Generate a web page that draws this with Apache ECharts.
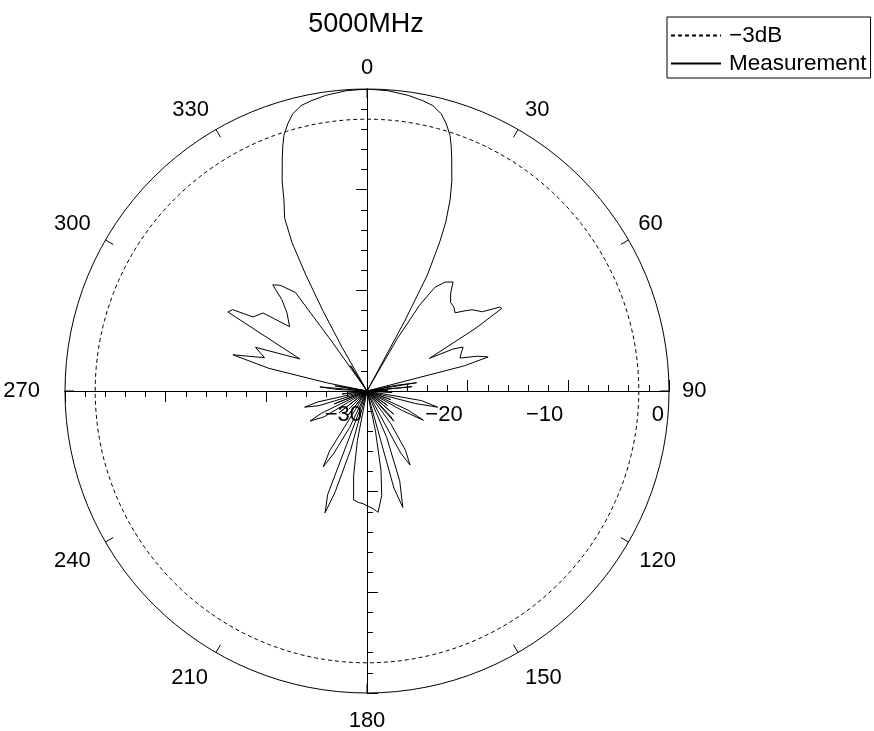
<!DOCTYPE html>
<html>
<head>
<meta charset="utf-8">
<script src="https://cdn.jsdelivr.net/npm/echarts@6/dist/echarts.min.js"></script>
<style>html,body{margin:0;padding:0;background:#fff}#c{width:874px;height:731px}</style>
</head>
<body>
<div id="c"></div>
<script>
// ---- data ----
const titleText = '5000MHz';
const seriesNames = ['\u22123dB', 'Measurement'];
const angleTicks = [0, 30, 60, 90, 120, 150, 180, 210, 240, 270, 300, 330];
const radiusTicks = [-30, -20, -10, 0];
const refLevel = -3;
// measurement pattern: angle (deg, clockwise from top) and level (dB)
const measAngles = [
  0, 4, 8, 11, 13, 15, 16.5, 18, 19, 20, 22, 23.5, 25, 26, 27.5, 28.3, 29,
  30, 31.5, 33.2, 35.6, 38.3, 40.5, 43.3, 46, 48.4, 50.5, 52.3, 55.5, 57.7, 58.5, 60, 62.4, 64, 65.4, 68, 70.5, 72.5, 74.3, 75.5, 77,
  79, 80.5, 82, 84.5, 86.5, 88.5, 90, 93, 96,
  100, 102.9, 104.5, 106, 110, 112, 115, 117.4, 119, 121, 125, 128, 131, 133, 137, 138.5, 140.5,
  144, 147, 149.8, 151.5, 154, 157, 160, 162.9, 164.5, 166,
  168, 170, 172, 174.8, 177, 180, 182, 184.5, 187, 189, 191, 193,
  195.5, 197.5, 199, 200.8, 202.5, 205.5, 208, 210, 212, 214.5, 218, 221, 225, 228, 232, 235,
  239, 242.2, 244, 246.5, 248.5, 250.5, 253, 255.5, 257.5, 260, 263, 265, 268, 270.5,
  273, 275, 276.5, 279, 280.5, 281.5, 283,
  285.1, 288, 291.4, 295.5, 299.6, 301.2, 303, 306.9, 309.7, 314.3, 317, 318.4, 320.6, 324, 324.6, 325.2,
  327, 329.5, 330.3, 331.2, 332.2, 333.2, 334.5, 336.5, 338, 340, 341, 342, 343.5, 345, 347, 349, 352, 356, 360
];
const measValues = [
  0, -0.1, -0.35, -0.65, -0.9, -1.5, -2.3, -3.3, -4.3, -5.4, -7.5, -9.3, -11.5, -13.5, -17, -22, -30,
  -24, -20, -17.7, -16.7, -16.2, -17.2, -17.9, -18.0, -18.3, -17.5, -16.8, -16.1, -14.4, -14.3, -17.5, -23, -20.5, -19.5, -19.9, -20.2, -18.5, -17.5, -20, -30,
  -27, -25, -30, -25.5, -30, -28, -30, -27.5, -30,
  -24.5, -22.8, -25, -30, -27.5, -30, -25.5, -23.7, -26, -30, -27.5, -30, -26.5, -30, -26.5, -26, -30,
  -26, -23, -21.5, -23, -30, -25, -20.5, -17.9, -20, -30,
  -26, -22, -19.5, -17.9, -18.3, -18.6, -18.8, -18.9, -19.1, -21.5, -25, -30,
  -24, -19.5, -17.2, -19, -30, -26, -23, -21.3, -23, -30, -27, -30, -27.5, -30, -26.5, -30,
  -25, -23.6, -25, -30, -26.5, -30, -25, -23.6, -25, -30, -27.5, -30, -28, -30,
  -27, -25.3, -30, -26.8, -30, -26, -20,
  -16.2, -19.3, -18.1, -22.6, -14.1, -14.4, -16.5, -17.1, -20, -18.9, -17.6, -15.9, -16.4, -17.9, -24, -30,
  -27, -30, -25, -21, -17, -13.5, -11, -9.3, -7.5, -5.4, -4.3, -3.3, -2.3, -1.5, -0.9, -0.65, -0.35, -0.1, 0
];

// ---- layout / style ----
const FONT = 'Liberation Sans';
const CX = 367, CY = 391, R = 302;
const minus = v => String(v).replace('-', '\u2212');
// per-label padding [top, right, bottom, left] to nudge angle labels
const labelPad = {
  0: [0, 0, 0, 0], 30: [0, 0, 0, 2], 60: [0, 0, 0, 1], 90: [0, 0, 0, 3],
  120: [3, 0, 0, 2], 150: [6, 0, 0, 2], 180: [7, 0, 0, 0], 210: [6, 3, 0, 0],
  240: [3, 6, 0, 0], 270: [0, 15, 0, 0], 300: [0, 6, 0, 0], 330: [0, 2, 0, 0]
};
const rich = {};
angleTicks.forEach(v => {
  rich['a' + v] = {fontFamily: FONT, fontSize: 22, color: '#000', padding: labelPad[v]};
});

const polars = [], angleAxes = [], radiusAxes = [];
const arms = [90, 0, 180, 270];
arms.forEach((start) => {
  [false, true].forEach((inside, si) => {
    const idx = polars.length;
    polars.push({center: [CX, CY], radius: R});
    if (idx === 0) {
      angleAxes.push({
        polarIndex: idx, type: 'value', min: 0, max: 360, interval: 30,
        startAngle: 90, clockwise: true,
        axisLine: {show: true, lineStyle: {color: '#000', width: 1}},
        axisTick: {show: true, inside: true, length: 9, lineStyle: {color: '#000', width: 1}},
        axisLabel: {show: true, margin: 10, fontFamily: FONT, fontSize: 22, color: '#000', rich: rich,
          formatter: v => angleTicks.indexOf(v) >= 0 ? '{a' + v + '|' + v + '}' : ''},
        splitLine: {show: false}, z: 3
      });
    } else {
      angleAxes.push({polarIndex: idx, type: 'value', min: 0, max: 360, startAngle: start, clockwise: true, show: false});
    }
    const showLabels = (start === 0 && si === 0);
    radiusAxes.push({
      polarIndex: idx, type: 'value', min: radiusTicks[0], max: radiusTicks[radiusTicks.length - 1], interval: 10,
      axisLine: {show: true, lineStyle: {color: '#000', width: 1}},
      axisTick: {show: true, inside: inside, length: 11, lineStyle: {color: '#000', width: 1}},
      minorTick: {show: si === 0, splitNumber: 5, length: 6, lineStyle: {color: '#000', width: 1}},
      axisLabel: {show: showLabels, margin: 0, align: 'right', verticalAlign: 'top',
        padding: [13, 5, 0, 0], fontFamily: FONT, fontSize: 22, color: '#000', formatter: minus},
      splitLine: {show: false}, z: 3
    });
  });
});

const refData = [];
for (let a = 0; a <= 360; a += 1) refData.push([refLevel, a]);
const measData = measAngles.map((a, i) => [measValues[i], a]);

const chart = echarts.init(document.getElementById('c'), null, {renderer: 'canvas'});
chart.setOption({
  backgroundColor: '#fff',
  animation: false,
  title: {text: titleText, left: 366, top: 11, textAlign: 'center', padding: 0,
    textStyle: {fontFamily: FONT, fontSize: 27, fontWeight: 'normal', color: '#000'}},
  legend: {
    data: seriesNames, orient: 'vertical', left: 667, top: 17,
    padding: [7, 4, 3, 3], itemGap: 5, itemWidth: 50, itemHeight: 14,
    borderColor: '#000', borderWidth: 1, borderRadius: 0,
    itemStyle: {opacity: 0},
    textStyle: {fontFamily: FONT, fontSize: 22.5, color: '#000', padding: [0, 0, 0, 3]}
  },
  polar: polars,
  angleAxis: angleAxes,
  radiusAxis: radiusAxes,
  series: [
    {name: seriesNames[0], type: 'line', coordinateSystem: 'polar', polarIndex: 0,
     data: refData, symbol: 'none', silent: true,
     itemStyle: {color: '#000'},
     lineStyle: {color: '#000', width: 1, type: [4, 3]}, z: 2},
    {name: seriesNames[1], type: 'line', coordinateSystem: 'polar', polarIndex: 0,
     data: measData, symbol: 'none', silent: true,
     itemStyle: {color: '#000'},
     lineStyle: {color: '#000', width: 1}, z: 4}
  ]
});
</script>
</body>
</html>
